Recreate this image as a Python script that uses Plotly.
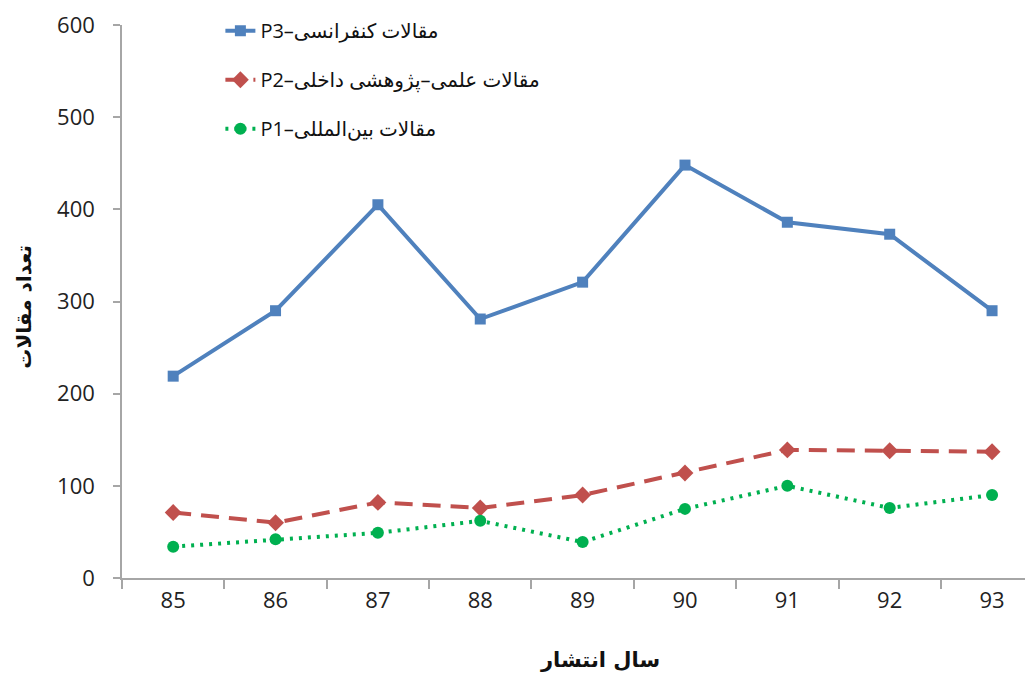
import plotly.graph_objects as go

years = ["85", "86", "87", "88", "89", "90", "91", "92", "93"]
p3_conference = [219, 290, 405, 281, 321, 448, 386, 373, 290]
p2_domestic = [71, 60, 82, 76, 90, 114, 139, 138, 137]
p1_international = [34, 42, 49, 62, 39, 75, 100, 76, 90]

names = ["P3–مقالات کنفرانسی", "P2–مقالات علمی–پژوهشی داخلی", "P1–مقالات بین‌المللی"]
y_title = "تعداد مقالات"
x_title = "سال انتشار"

xs = list(range(len(years)))
font_main = "Open Sans, DejaVu Sans, sans-serif"

fig = go.Figure()
fig.add_trace(go.Scatter(
    x=xs, y=p3_conference, name=names[0], mode="lines+markers",
    line=dict(color="#4F81BD", width=4),
    marker=dict(symbol="square", size=11, color="#4F81BD"),
    legendgroup="a",
))
fig.add_trace(go.Scatter(
    x=xs, y=p2_domestic, name=names[1], mode="lines+markers",
    line=dict(color="#C0504D", width=4, dash="18px,10px"),
    marker=dict(symbol="diamond", size=13, color="#C0504D"),
    legendgroup="b",
))
fig.add_trace(go.Scatter(
    x=xs, y=p1_international, name=names[2], mode="lines+markers",
    line=dict(color="#00B050", width=4, dash="3px,6px"),
    marker=dict(symbol="circle", size=12, color="#00B050"),
    legendgroup="c",
))

fig.update_layout(
    width=1025, height=667,
    margin=dict(l=114, r=0, t=17, b=97),
    paper_bgcolor="white", plot_bgcolor="white",
    font=dict(family=font_main, size=22, color="#222"),
    showlegend=True,
    legend=dict(
        x=0.108, y=1.025, xanchor="left", yanchor="top",
        font=dict(size=20, color="#111", family=font_main),
        bgcolor="rgba(0,0,0,0)", tracegroupgap=20,
        traceorder="grouped",
    ),
    xaxis=dict(
        range=[-0.5, 8.4], tickmode="array", tickvals=xs, ticktext=years,
        showgrid=False, zeroline=False, showline=True, linecolor="#A6A6A6",
        linewidth=1.5, ticks="", tickfont=dict(size=22, color="#222"),
        minor=dict(tick0=-0.5, dtick=1, ticks="outside", ticklen=9,
                   tickcolor="#A6A6A6", tickwidth=1.5, showgrid=False),
        ticklabelstandoff=2,
    ),
    yaxis=dict(
        range=[0, 600], dtick=100, showgrid=False, zeroline=False,
        showline=True, linecolor="#A6A6A6", linewidth=1.5,
        ticks="outside", ticklen=7, tickcolor="#A6A6A6", tickwidth=1.5,
        tickfont=dict(size=22, color="#222"), ticklabelstandoff=14,
    ),
    annotations=[
        dict(text="<b>" + x_title + "</b>", xref="paper", yref="paper",
             x=0.525, y=-0.148, xanchor="center", yanchor="middle",
             showarrow=False, font=dict(size=21, color="#111", family="DejaVu Sans")),
        dict(text="<b>" + y_title + "</b>", xref="paper", yref="paper",
             x=-0.108, y=0.49, xanchor="center", yanchor="middle", textangle=-90,
             showarrow=False, font=dict(size=20, color="#111", family="DejaVu Sans")),
    ],
)

fig.write_html("out.html")
